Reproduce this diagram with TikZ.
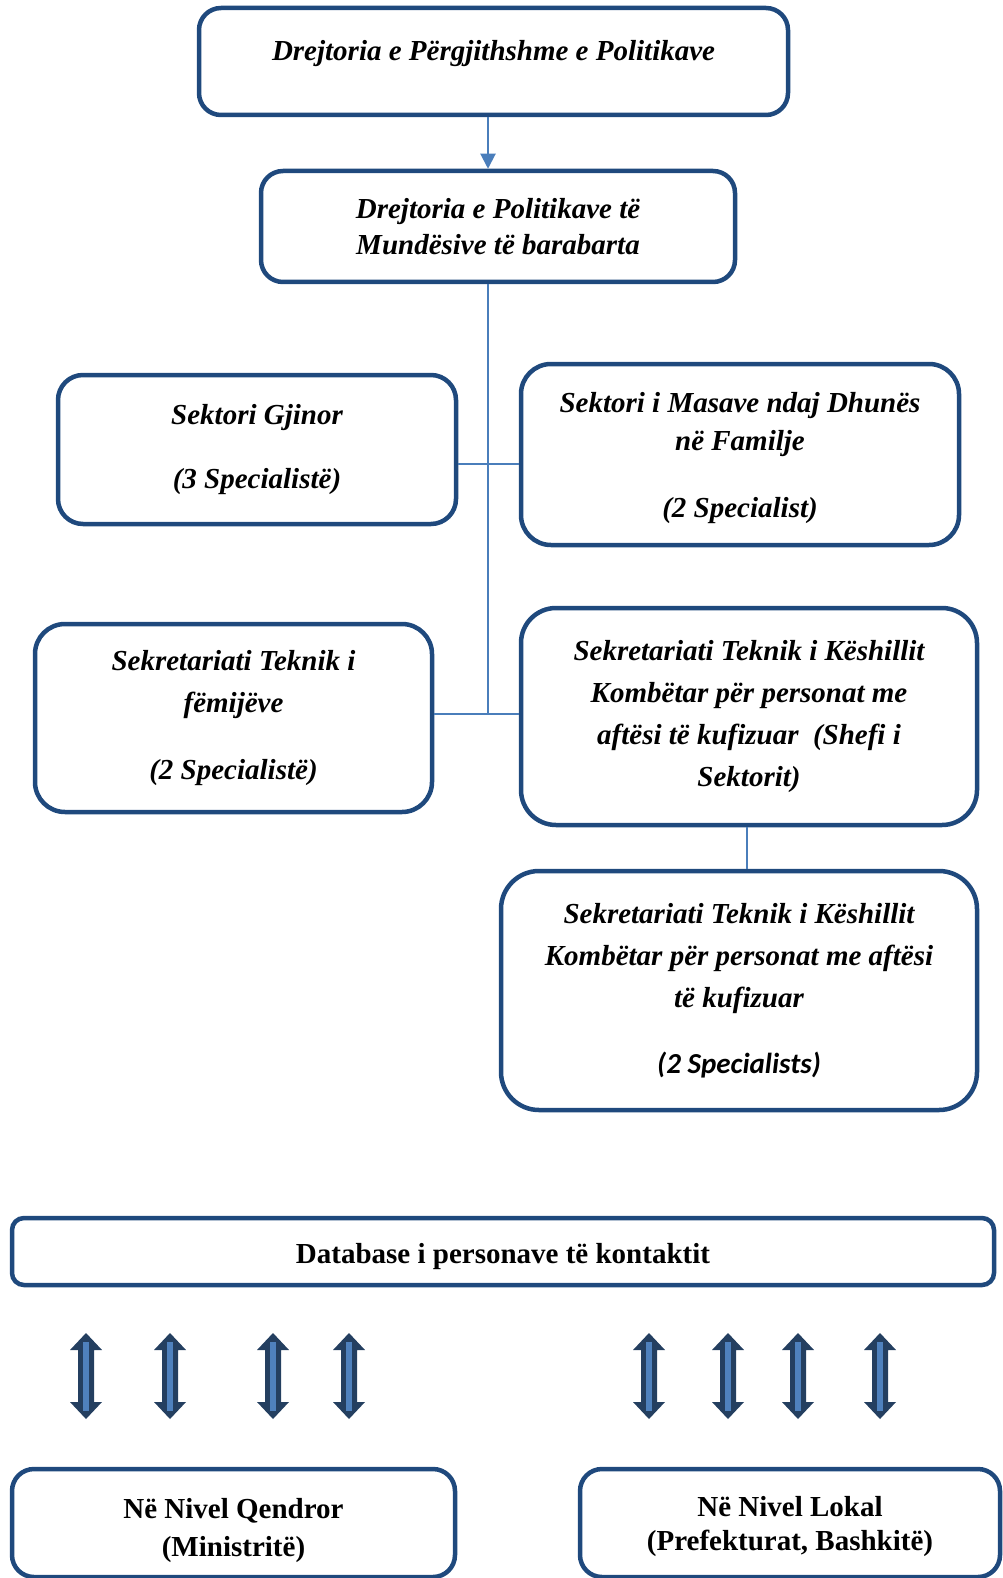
\documentclass[tikz,border=0pt]{standalone}
\usepackage{fontspec}
\setmainfont{Liberation Serif}
\newfontfamily\carlito{Carlito}
\usetikzlibrary{arrows.meta,positioning}
\definecolor{unitblue}{HTML}{1F497D}
\definecolor{linkblue}{HTML}{4A7EBB}
\definecolor{arrowdark}{HTML}{243F60}
\definecolor{arrowlight}{HTML}{4F81BD}
\newcommand\padtop[1]{\rule{0pt}{#1}}

\begin{document}
\begin{tikzpicture}[x=1pt,y=-1pt,
  unit/.style={draw=unitblue,line width=4.5pt,rounded corners=22pt,inner sep=0pt,
               align=center,font=\fontsize{29}{42}\selectfont\bfseries\itshape},
  base/.style={unit,font=\fontsize{29}{38}\selectfont\bfseries},
  link/.style={draw=linkblue,line width=2pt},
  arr/.style={link,-{Triangle[length=15pt,width=15pt]}}]
  \useasboundingbox (0,0) rectangle (1002,1578);
  \node[unit,minimum width=589pt,minimum height=107pt,text height=20pt,text depth=21pt]
    (gen) at (493.5,61.5) {Drejtoria e Përgjithshme e Politikave};
  \node[unit,minimum width=474pt,minimum height=111pt]
    (dir) at (498,226.5) {Drejtoria e Politikave të\\[-6pt]Mundësive të barabarta};
  \draw[arr] (gen.south -| 488,0) -- (dir.north -| 488,0);
  \node[unit,rounded corners=25pt,minimum width=398pt,minimum height=149pt]
    (gji) at (257,449.5) {Sektori Gjinor\\[22pt](3 Specialistë)};
  \node[unit,rounded corners=30pt,minimum width=438pt,minimum height=181pt]
    (dhu) at (740,454.5) {\padtop{28pt}Sektori i Masave ndaj Dhunës\\[-4pt]në Familje\\[25pt](2 Specialist)};
  \node[unit,rounded corners=30pt,minimum width=397pt,minimum height=188pt]
    (fem) at (233.5,718) {Sekretariati Teknik i\\fëmijëve\\[25pt](2 Specialistë)};
  \node[unit,rounded corners=35pt,minimum width=456pt,minimum height=217pt]
    (kes) at (749,716.5) {Sekretariati Teknik i Këshillit\\Kombëtar për personat me\\aftësi të kufizuar\ \ (Shefi i\\Sektorit)};
  \node[unit,rounded corners=38pt,minimum width=476pt,minimum height=239pt]
    (spec) at (739,990.5) {Sekretariati Teknik i Këshillit\\Kombëtar për personat me aftësi\\të kufizuar\\[24pt]{\carlito (2 Specialists)}};
  % trunk and branches
  \coordinate (j1) at (488,464);
  \coordinate (j2) at (488,714);
  \draw[link] (dir.south -| j1) -- (j2);
  \draw[link] (j1 -| gji.east) -- (j1 -| dhu.west);
  \draw[link] (j2 -| fem.east) -- (j2 -| kes.west);
  \draw[link] (kes.south -| 747,0) -- (spec.north -| 747,0);
  % database and levels
  \node[base,rounded corners=12pt,minimum width=982pt,minimum height=67pt]
    (db) at (503,1251.5) {\padtop{30pt}Database i personave të kontaktit};
  \node[base,minimum width=443pt,minimum height=108pt]
    (qen) at (233.5,1523) {\padtop{36pt}Në Nivel Qendror\\(Ministritë)};
  \node[base,minimum width=420pt,minimum height=108pt]
    (lok) at (790,1523) {\padtop{28pt}Në Nivel Lokal\\[-4pt](Prefekturat, Bashkitë)};
  \foreach \ax in {86,170,273,349,649,728,798,880}{
    \fill[arrowdark] (\ax,1333) -- (\ax+16,1350) -- (\ax+8,1350) -- (\ax+8,1402)
      -- (\ax+16,1402) -- (\ax,1419) -- (\ax-16,1402) -- (\ax-8,1402)
      -- (\ax-8,1350) -- (\ax-16,1350) -- cycle;
    \draw[arrowlight,line width=5.5pt] (\ax,1342) -- (\ax,1411);
  }
\end{tikzpicture}
\end{document}
